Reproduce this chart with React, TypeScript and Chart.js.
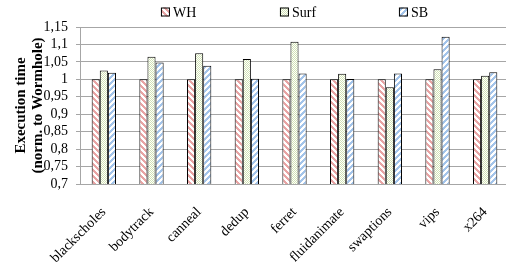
import React, { useEffect, useRef } from "react";
import { Chart, registerables } from "chart.js";

Chart.register(...registerables);

const categories = ["blackscholes", "bodytrack", "canneal", "dedup", "ferret", "fluidanimate", "swaptions", "vips", "x264"];
const whValues = [1, 1, 1, 1, 1, 1, 1, 1, 1];
const surfValues = [1.025, 1.065, 1.075, 1.058, 1.108, 1.016, 0.977, 1.029, 1.01];
const sbValues = [1.019, 1.048, 1.039, 1.002, 1.017, 1.001, 1.017, 1.122, 1.02];
const seriesNames = ["WH", "Surf", "SB"];
const yMin = 0.7;
const yMax = 1.15;
const yStep = 0.05;
const yTitle = ["Execution time", "(norm. to Wormhole)"];

const FONT = "'Liberation Serif', 'Times New Roman', serif";
Chart.defaults.font.family = FONT;

function makePattern(kind: string, color: string): CanvasPattern | string {
  const size = kind === "dots" ? 2 : 6;
  const c = document.createElement("canvas");
  c.width = size;
  c.height = size;
  const g = c.getContext("2d");
  if (!g) return color;
  g.fillStyle = "#ffffff";
  g.fillRect(0, 0, size, size);
  g.fillStyle = color;
  for (let x = 0; x < size; x++) {
    for (let y = 0; y < size; y++) {
      let on = false;
      if (kind === "back") on = (((x - y) % size) + size) % size < 3;
      else if (kind === "fwd") on = (x + y) % size < 3;
      else on = (x + y) % 2 === 0;
      if (on) g.fillRect(x, y, 1, 1);
    }
  }
  const p = g.createPattern(c, "repeat");
  return p || color;
}

export default function App() {
  const ref = useRef<HTMLCanvasElement | null>(null);

  useEffect(() => {
    if (!ref.current) return;
    const whFill = makePattern("back", "#e8a4a4");
    const surfFill = makePattern("dots", "#d2e3b4");
    const sbFill = makePattern("fwd", "#a3c4ea");
    const fills = [whFill, surfFill, sbFill];

    const legendPlugin = {
      id: "customLegend",
      afterDraw(chart: any) {
        const { ctx, chartArea } = chart;
        ctx.save();
        ctx.font = `14px ${FONT}`;
        const box = 9;
        const gap = 3;
        const step = 119;
        const lastW = box + gap + ctx.measureText(seriesNames[seriesNames.length - 1]).width;
        const total = step * (seriesNames.length - 1) + lastW;
        const cx = (chartArea.left + chartArea.right) / 2;
        let x = cx - total / 2;
        const yMid = 12;
        seriesNames.forEach((name, i) => {
          ctx.fillStyle = fills[i] as any;
          ctx.fillRect(x, yMid - box / 2, box, box);
          ctx.strokeStyle = "#000";
          ctx.lineWidth = 1;
          ctx.strokeRect(x + 0.5, yMid - box / 2 + 0.5, box - 1, box - 1);
          ctx.fillStyle = "#000";
          ctx.textBaseline = "middle";
          ctx.textAlign = "left";
          ctx.fillText(name, x + box + gap, yMid + 1);
          x += step;
        });
        ctx.restore();
      },
    };

    const chart = new Chart(ref.current, {
      type: "bar",
      data: {
        labels: categories,
        datasets: [
          { label: seriesNames[0], data: whValues, backgroundColor: whFill as any, borderColor: "#000", borderWidth: 1 },
          { label: seriesNames[1], data: surfValues, backgroundColor: surfFill as any, borderColor: "#000", borderWidth: 1 },
          { label: seriesNames[2], data: sbValues, backgroundColor: sbFill as any, borderColor: "#000", borderWidth: 1 },
        ],
      },
      options: {
        animation: false,
        responsive: false,
        maintainAspectRatio: false,
        layout: { padding: { top: 27, right: 3, bottom: 0, left: 0 } },
        datasets: { bar: { categoryPercentage: 0.51, barPercentage: 1.0 } },
        plugins: { legend: { display: false }, tooltip: { enabled: false } },
        scales: {
          x: {
            grid: { display: false },
            border: { display: true, color: "#a6a6a6" },
            ticks: {
              maxRotation: 45,
              minRotation: 45,
              autoSkip: false,
              color: "#000",
              font: { family: FONT, size: 14 },
              padding: 12,
            },
            afterFit: (scale: any) => {
              scale.height = 78;
            },
          },
          y: {
            min: yMin,
            max: yMax,
            grid: { color: "#a6a6a6", tickLength: 4, drawTicks: true },
            border: { display: true, color: "#a6a6a6" },
            ticks: {
              stepSize: yStep,
              autoSkip: false,
              color: "#000",
              padding: 8,
              font: { family: FONT, size: 14 },
              callback: (v: any) => String(Number(Number(v).toFixed(2))).replace(".", ","),
            },
            title: {
              display: true,
              text: yTitle,
              color: "#000",
              font: { family: FONT, size: 15, weight: "bold", lineHeight: 1.15 },
              padding: { top: 12.5, bottom: 0 },
            },
            afterFit: (scale: any) => {
              scale.width = 80;
            },
          },
        },
      },
      plugins: [legendPlugin],
    } as any);
    return () => chart.destroy();
  }, []);

  return (
    <div style={{ position: "fixed", left: 0, top: 0, width: 506, height: 262, overflow: "hidden", background: "#fff" }}>
      <canvas ref={ref} width={512} height={262} style={{ display: "block", width: 512, height: 262 }} />
    </div>
  );
}
